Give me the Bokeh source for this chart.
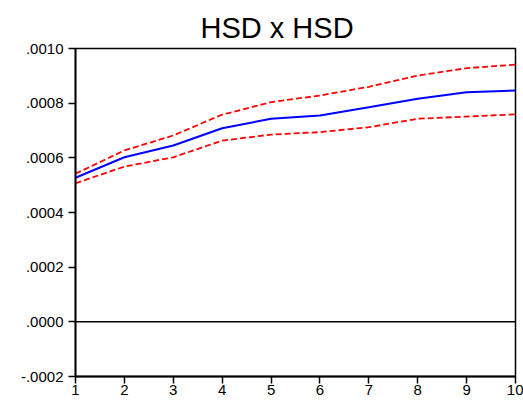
from bokeh.plotting import figure
from bokeh.models import Span, FixedTicker, Range1d
from bokeh.embed import file_html
from bokeh.resources import INLINE

# Data
periods = [1, 2, 3, 4, 5, 6, 7, 8, 9, 10]
response = [0.000527, 0.000602, 0.000645, 0.000708, 0.000743, 0.000755, 0.000785, 0.000816, 0.000840, 0.000846]
upper_band = [0.000542, 0.000627, 0.000682, 0.000758, 0.000804, 0.000828, 0.000860, 0.000901, 0.000928, 0.000941]
lower_band = [0.000507, 0.000568, 0.000602, 0.000663, 0.000685, 0.000694, 0.000712, 0.000743, 0.000751, 0.000759]

y_ticks = [-0.0002, 0.0, 0.0002, 0.0004, 0.0006, 0.0008, 0.0010]
y_tick_labels = ["-.0002", ".0000", ".0002", ".0004", ".0006", ".0008", ".0010"]
x_ticks = [1, 2, 3, 4, 5, 6, 7, 8, 9, 10]
title_text = "HSD x HSD"

p = figure(width=523, height=401, output_backend="svg", toolbar_location=None,
           x_range=Range1d(1, 10), y_range=Range1d(-0.0002, 0.0010),
           title=title_text,
           min_border_left=75, min_border_right=8, min_border_top=48, min_border_bottom=25)

p.title.text_font = "Liberation Sans"
p.title.text_font_size = "29px"
p.title.text_font_style = "normal"
p.title.text_color = "black"
p.title.align = "left"
p.title.offset = 125
p.title.standoff = 9

p.line(periods, upper_band, line_color="#FF0000", line_width=1.8, line_dash="6 3")
p.line(periods, lower_band, line_color="#FF0000", line_width=1.8, line_dash="6 3")
p.line(periods, response, line_color="#0000FF", line_width=2)

p.add_layout(Span(location=0, dimension="width", line_color="black", line_width=1.5))

p.xgrid.visible = False
p.ygrid.visible = False
p.outline_line_color = "black"
p.outline_line_width = 1.5
p.background_fill_color = "white"
p.border_fill_color = "white"

p.yaxis.ticker = FixedTicker(ticks=y_ticks)
p.yaxis.major_label_overrides = {t: l for t, l in zip(y_ticks, y_tick_labels)}
p.xaxis.ticker = FixedTicker(ticks=x_ticks)

for ax in (p.xaxis[0], p.yaxis[0]):
    ax.axis_line_color = "black"
    ax.axis_line_width = 1.8
    ax.major_tick_line_color = "black"
    ax.major_tick_line_width = 1.5
    ax.major_tick_in = 0
    ax.major_tick_out = 7
    ax.minor_tick_line_color = None
    ax.major_label_text_font = "Liberation Sans"
    ax.major_label_text_font_size = "15px"
    ax.major_label_text_color = "black"

p.yaxis.major_label_standoff = 5
p.xaxis.major_label_standoff = 1

open("out.html", "w").write(file_html(p, INLINE))
